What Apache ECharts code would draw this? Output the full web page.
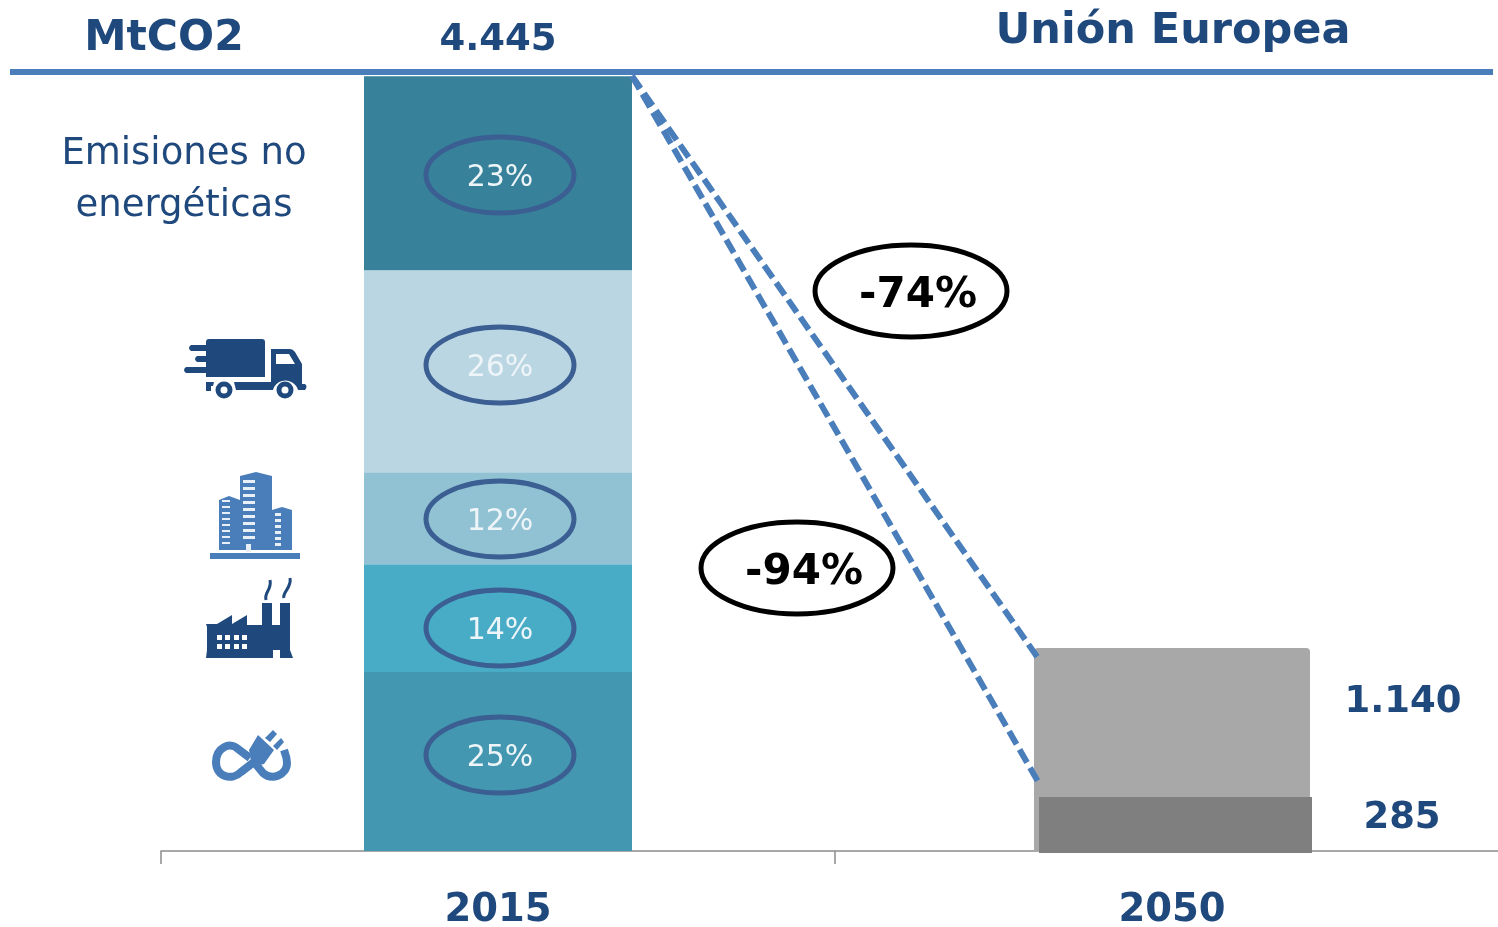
<!DOCTYPE html>
<html><head><meta charset="utf-8">
<style>html,body{margin:0;padding:0;background:#fff}#c{width:1498px;height:927px}</style>
<script src="https://cdn.jsdelivr.net/npm/echarts@6/dist/echarts.min.js"></script>
</head><body><div id="c"></div>
<script>
const years = ['2015', '2050'];
const emisionesNoEnergeticas = [1112, null];
const transporte = [1158, null];
const edificios = [528, null];
const industria = [619, null];
const energia = [1026, null];
const total2050Alto = [null, 1140];
const total2050Bajo = [null, 285];
const etiquetasPct = ['23%', '26%', '12%', '14%', '25%'];
const FONT = '"DejaVu Sans",sans-serif';
const NAVY = '#1f497d', BLUE = '#4a7ebb';

const pctY = [175, 365, 519, 628, 755];
const g = [];
const icons = [];
const text = (t, x, y, size, weight, fill) => g.push({type:'text', z:20, x, y, style:{text:t, x:0, y:0, align:'center', verticalAlign:'middle', font:`${weight} ${size}px ${FONT}`, fill}});
const path = (d, fill, extra) => icons.push({type:'path', shape:{pathData:d}, style:Object.assign({fill}, extra||{})});

// header
g.push({type:'line', z:12, shape:{x1:10,y1:72,x2:1493,y2:72}, style:{stroke:BLUE, lineWidth:6}});
text('MtCO2', 164, 39, 42.5, 'bold', NAVY);
text('4.445', 498, 40, 37, 'bold', NAVY);
text('Unión Europea', 1173, 32, 43, 'bold', NAVY);
text('Emisiones no', 184, 154, 37, 'normal', NAVY);
text('energéticas', 184, 206, 37, 'normal', NAVY);
text('1.140', 1403, 702, 37, 'bold', NAVY);
text('285', 1402, 818, 37, 'bold', NAVY);

// pct ellipses
etiquetasPct.forEach((t, i) => {
  g.push({type:'ellipse', z:14, shape:{cx:500, cy:pctY[i], rx:74, ry:38}, style:{fill:null, stroke:'#3b5f92', lineWidth:5}});
  text(t, 500, pctY[i]+3, 30, 'normal', '#eef5f8');
});

// dashed connectors
[[632,76,1038,658],[632,76,1040,785]].forEach(p => g.push({type:'line', z:13, shape:{x1:p[0],y1:p[1],x2:p[2],y2:p[3]}, style:{stroke:BLUE, lineWidth:6, lineDash:[15,6]}}));

// change ellipses
[['-74%',911,291],['-94%',797,568]].forEach(e => {
  g.push({type:'ellipse', z:14, shape:{cx:e[1], cy:e[2], rx:96, ry:46}, style:{fill:'#fff', stroke:'#000', lineWidth:5}});
  text(e[0], e[1]+7, e[2]+5, 42, 'bold', '#000');
});

// truck icon
path('M209 339H262Q265 339 265 342V377H206V342Q206 339 209 339Z', NAVY);
path('M271 349H290Q293 349 295 352L302 364V384H305Q308 386 305 390H298A13 13 0 0 0 273 390H236L234 382H271Z M276 354V364H295L289 354Z', NAVY);
path('M206 382H214L213 386H211V391H206Z', NAVY);
path('M191 345H206V351H191Q187 348 191 345Z M197 356H206V362H197Q193 359 197 356Z M186 367H206V373H186Q182 370 186 367Z', NAVY);
[[224,390],[285,390]].forEach(c => icons.push({type:'circle', shape:{cx:c[0],cy:c[1],r:6}, style:{fill:'#fff', stroke:NAVY, lineWidth:5}}));

// buildings icon
path('M219 500L229 496L240 500V550H219Z M240 476L256 472L272 476V550H240Z M272 510L282 507L292 510V550H272Z', BLUE);
path('M210 553H300V559H210Z', BLUE);
let w = '';
for (let y = 500; y < 548; y += 6) w += `M222 ${y}h8v2h-8Z`;
for (let y = 480; y < 542; y += 7) w += `M243 ${y}h12v3h-12Z`;
for (let y = 513; y < 546; y += 6) w += `M275 ${y}h6v3h-6Z`;
path(w + 'M246 544h5v8h-5Z', '#e8eff7');

// factory icon
path('M206 624H217L232 615V624L247 615V625H262V603H272V625H280V603H290V650L293 658H280V650H273V658H206L207 650V627Z', NAVY);
let fw = '';
[217,225,234,242].forEach(x => [635,644].forEach(y => { fw += `M${x} ${y}h5v5h-5Z`; }));
path(fw, '#fff');
['M266 600C264 592 272 590 270 580','M284 598C282 592 292 588 290 578'].forEach(d => icons.push({type:'path', shape:{pathData:d}, style:{fill:null, stroke:NAVY, lineWidth:3}}));

// plug icon
icons.push({type:'path', shape:{pathData:'M250 758L238 749C230 741 216 748 216 762C216 777 232 781 241 772L254 762M254 762L263 773C272 781 287 775 287 763C287 757 285 753 284 750'}, style:{fill:null, stroke:BLUE, lineWidth:8}});
path('M258 735L274 750L264 764L256 766L251 761L249 750Z M265 738L273 730L277 734L270 742Z M273 746L281 738L284 742L277 750Z', BLUE);

const stacked = (name, data, color) => ({name, type:'bar', stack:'a', xAxisIndex:0, yAxisIndex:0, barWidth:268, data, itemStyle:{color}, silent:true});

const option = {
  animation:false,
  grid:[
    {left:161, width:1348, top:76, height:775, outerBoundsMode:'none'},
    {left:164.5, width:1348, top:78, height:775, outerBoundsMode:'none'}
  ],
  xAxis:[
    {gridIndex:0, type:'category', data:years, position:'bottom',
     axisLine:{lineStyle:{color:'#8c8c8c', width:1.5}}, axisTick:{show:true, length:13, alignWithLabel:false, lineStyle:{color:'#8c8c8c', width:1.5}},
     axisLabel:{fontFamily:FONT, fontWeight:'bold', fontSize:38.5, color:NAVY, margin:40}},
    {gridIndex:0, type:'category', data:years, show:false},
    {gridIndex:1, type:'category', data:years, show:false}
  ],
  yAxis:[
    {gridIndex:0, type:'value', min:0, max:4445, show:false},
    {gridIndex:0, type:'value', min:0, max:4352, show:false},
    {gridIndex:1, type:'value', min:0, max:3944, show:false}
  ],
  series:[
    stacked('Energía', energia, '#4397b0'),
    stacked('Industria', industria, '#49acc6'),
    stacked('Edificios', edificios, '#91c2d4'),
    stacked('Transporte', transporte, '#bbd6e3'),
    stacked('Emisiones no energéticas', emisionesNoEnergeticas, '#37829a'),
    {name:'-74%', type:'bar', xAxisIndex:1, yAxisIndex:1, barWidth:276, data:total2050Alto, itemStyle:{color:'#a8a8a8', borderRadius:[4,4,0,0]}, silent:true, z:3},
    {name:'-94%', type:'bar', xAxisIndex:2, yAxisIndex:2, barWidth:273, data:total2050Bajo, itemStyle:{color:'#7f7f7f'}, silent:true, z:4},
    {name:'iconos', type:'custom', coordinateSystem:'none', data:[0], silent:true, z:15, clip:false,
     renderItem:() => ({type:'group', children:icons})}
  ],
  graphic:{elements:g}
};
echarts.init(document.getElementById('c'), null, {renderer:'canvas'}).setOption(option);
</script>
</body></html>
